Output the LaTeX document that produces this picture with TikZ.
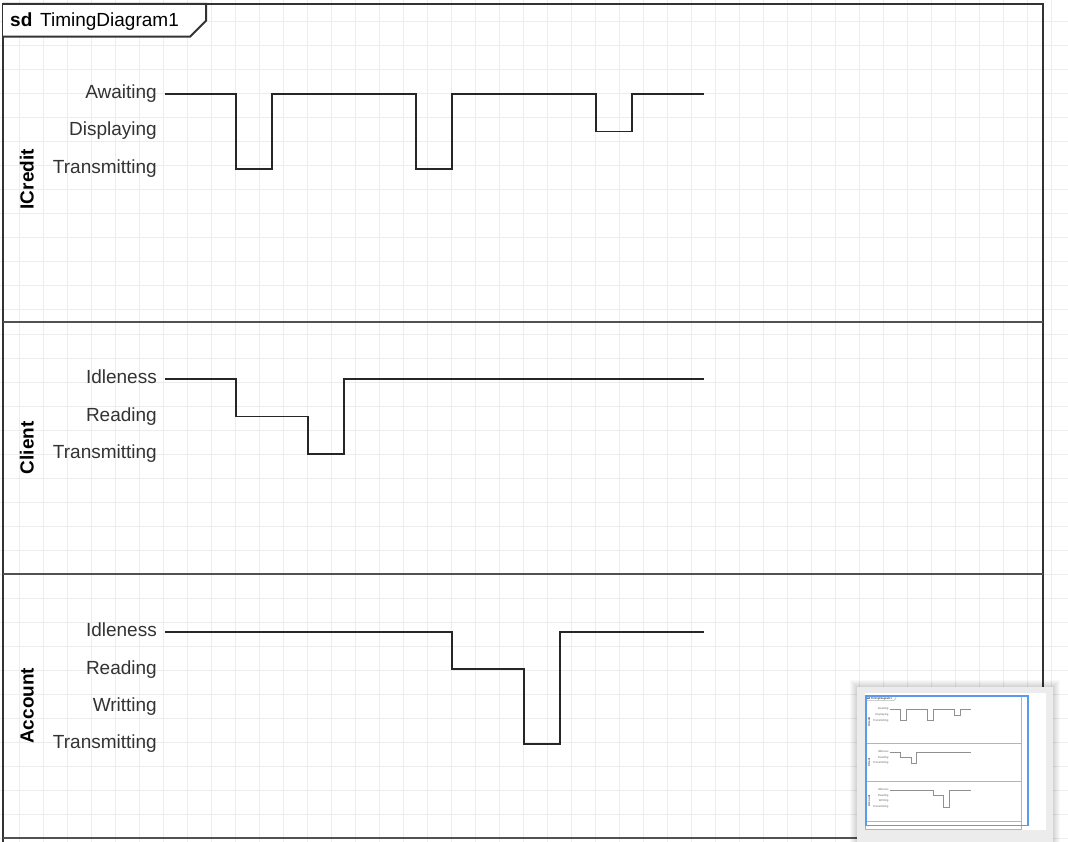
\documentclass[tikz,border=0pt]{standalone}
\usepackage{fontspec}
\setmainfont{Liberation Sans}
\definecolor{gridc}{HTML}{EDEDED}
\definecolor{framec}{HTML}{333333}
\definecolor{wavec}{HTML}{262626}
\definecolor{textc}{HTML}{333333}
\definecolor{minic}{HTML}{B4B4B4}
\definecolor{panelc}{HTML}{ECECEC}
\definecolor{viewc}{HTML}{5B9BEC}
\tikzset{
  frameline/.style={draw=framec, line width=2},
  sepline/.style={draw=framec!85, line width=2.2},
  wave/.style={draw=wavec, line width=1.8, line join=miter},
  lbl/.style={text=textc, inner sep=0, font=\fontsize{19}{23}\selectfont},
  lanelbl/.style={text=black, inner sep=0, rotate=90, anchor=base, font=\fontsize{19}{23}\selectfont\bfseries},
  gridline/.style={draw=gridc, line width=1},
}
\newcommand\timingdiag[1]{%
  \draw[frameline] (3,4) rectangle (1043,893);
  \draw[sepline] (3,321.7) -- (1043,321.7);
  \draw[sepline] (3,573.7) -- (1043,573.7);
  \draw[sepline] (3,838) -- (1043,838);
  \filldraw[frameline, fill=white] (3,4) -- (206,4) -- (206,20.7) -- (190,36.7) -- (3,36.7);
  \node[lbl, anchor=base west, font=\fontsize{19}{23}\selectfont\bfseries, text=black] (#1sd) at (10,26.7) {sd};
  \node[lbl, anchor=base west, text=black] (#1title) at (40,26.7) {TimingDiagram1};
  % lane 1
  \node[lanelbl] (#1icredit) at (33.5,179.3) {ICredit};
  \node[lbl, anchor=base east] (#1aw) at (157,99) {Awaiting};
  \node[lbl, anchor=base east] (#1disp) at (157,136) {Displaying};
  \node[lbl, anchor=base east] (#1tra) at (157,173.5) {Transmitting};
  \draw[wave] (165,94) -| (236,169) -| (272,94) -| (416,169) -| (452,94) -| (596,131.5) -| (632,94) -- (704,94);
  % lane 2
  \node[lanelbl] (#1client) at (33.5,447.7) {Client};
  \node[lbl, anchor=base east] (#1cid) at (157,383.5) {Idleness};
  \node[lbl, anchor=base east] (#1crd) at (157,421) {Reading};
  \node[lbl, anchor=base east] (#1ctr) at (157,458.5) {Transmitting};
  \draw[wave] (165,379) -| (236,416.5) -| (308,454) -| (344,379) -- (704,379);
  % lane 3
  \node[lanelbl] (#1account) at (33.5,705.8) {Account};
  \node[lbl, anchor=base east] (#1aid) at (157,636.5) {Idleness};
  \node[lbl, anchor=base east] (#1ard) at (157,674) {Reading};
  \node[lbl, anchor=base east] (#1awr) at (157,711) {Writting};
  \node[lbl, anchor=base east] (#1atr) at (157,748.5) {Transmitting};
  \draw[wave] (165,632) -| (452,669) -| (524,744) -| (560,632) -- (704,632);
}
\begin{document}
\begin{tikzpicture}[x=1pt,y=-1pt]
\useasboundingbox (0,0) rectangle (1068,842);
\clip (0,0) rectangle (1068,842);
\fill[white] (0,0) rectangle (1068,842);
\foreach \i in {0,...,44} \draw[gridline] (19.5+24*\i,0) -- (19.5+24*\i,842);
\foreach \j in {0,...,34} \draw[gridline] (0,22+24*\j) -- (1068,22+24*\j);
\timingdiag{m}
% overview panel
\foreach \k in {1,...,7} \fill[black, opacity=0.025] (857-\k,687-\k) rectangle (1053+\k,860);
\fill[panelc] (857,687) rectangle (1053,860);
\fill[white] (865,693) rectangle (1046,830);
\begin{scope}
  \clip (865,693) rectangle (1046,830);
  \begin{scope}[shift={(865.05,695.1)}, scale=0.15, transform shape,
      frameline/.style={draw=minic, line width=0.5},
      sepline/.style={draw=minic, line width=0.5},
      wave/.style={draw=minic!80!black, line width=0.4},
      lbl/.style={text=minic!60!black, inner sep=0, font=\fontsize{19}{23}\selectfont},
      lanelbl/.style={text=minic!40!black, inner sep=0, rotate=90, anchor=base, font=\fontsize{19}{23}\selectfont\bfseries}]
    \timingdiag{o}
  \end{scope}
\end{scope}
\draw[viewc, line width=1.6] (865.7,695.7) rectangle (1027.7,825.3);
\end{tikzpicture}
\end{document}
